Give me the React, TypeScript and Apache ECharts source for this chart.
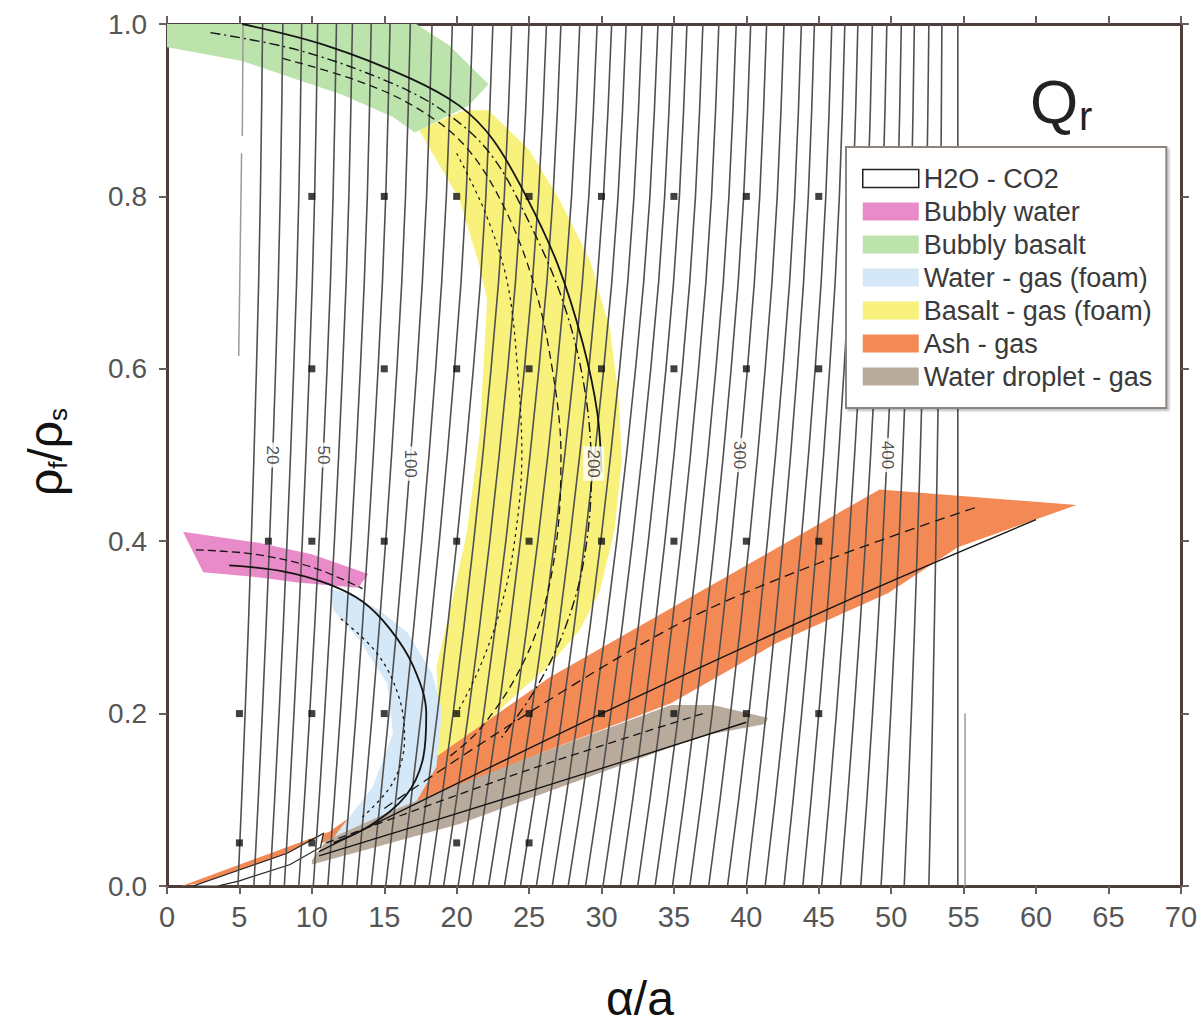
import React, { useEffect, useRef } from 'react';
import * as echarts from 'echarts';

// ---- axes ----
const xTicks = [0, 5, 10, 15, 20, 25, 30, 35, 40, 45, 50, 55, 60, 65, 70];
const yTicks = [0, 0.2, 0.4, 0.6, 0.8, 1.0];

// ---- Qr contour lines (x at bottom y=0 and at top y=1) ----
const contourTopX = [6.6, 8.0, 9.3, 10.4, 11.7, 12.8, 14.1, 15.4, 16.8, 18.3, 19.7, 21.1, 22.5, 23.8, 25.0, 26.2, 27.2, 28.5, 29.7, 30.7, 31.7, 32.8, 33.9, 34.9, 35.9, 37.0, 38.1, 39.3, 40.3, 41.4, 42.6, 43.8, 44.7, 45.9, 46.8, 47.7, 48.7, 49.7, 50.7, 51.6, 52.6, 53.5, 54.6];
const contourBottomX = [4.9, 6.0, 7.1, 8.1, 9.1, 10.1, 11.1, 12.1, 13.1, 14.1, 15.1, 16.1, 17.1, 18.1, 19.1, 20.1, 21.1, 22.2, 23.3, 24.4, 25.5, 26.6, 27.7, 28.9, 30.1, 31.3, 32.5, 33.7, 34.9, 36.1, 37.4, 38.7, 40.0, 41.3, 42.6, 43.9, 45.2, 46.5, 47.9, 49.3, 50.9, 52.6, 54.6];
// common shape of the contours: share of the bottom-to-top shift reached at each height
const contourProfileY = [0, 0.1, 0.2, 0.3, 0.4, 0.5, 0.6, 0.7, 0.8, 0.9, 1.0];
const contourProfileShare = [0, 0.15, 0.29, 0.42, 0.54, 0.65, 0.75, 0.84, 0.91, 0.96, 1.0];
const partialContours = [
  [[5.25, 1.0], [5.2, 0.87]],
  [[5.15, 0.85], [4.95, 0.615]],
  [[55.1, 0.0], [55.1, 0.2]],
];

// ---- contour labels ----
const contourLabelText = ['20', '50', '100', '200', '300', '400'];
const contourLabelX = [6.9, 10.6, 17.1, 29.0, 39.5, 50.1];
const contourLabelY = [0.5, 0.5, 0.49, 0.49, 0.5, 0.5];

// ---- black sample dots ----
const dotPoints = [
  [10, 0.8], [15, 0.8], [20, 0.8], [25, 0.8], [30, 0.8], [35, 0.8], [40, 0.8], [45, 0.8],
  [10, 0.6], [15, 0.6], [20, 0.6], [25, 0.6], [30, 0.6], [35, 0.6], [40, 0.6], [45, 0.6],
  [7, 0.4], [10, 0.4], [15, 0.4], [20, 0.4], [25, 0.4], [30, 0.4], [35, 0.4], [40, 0.4], [45, 0.4],
  [5, 0.2], [10, 0.2], [15, 0.2], [20, 0.2], [25, 0.2], [30, 0.2], [35, 0.2], [40, 0.2], [45, 0.2],
  [5, 0.05], [10, 0.05], [20, 0.05], [25, 0.05],
];

// ---- regions ----
const regionH2OCO2 = [[1.8, 0.0], [8.3, 0.038], [10.8, 0.061], [10.6, 0.045], [8.5, 0.025], [5, 0.006], [3.5, 0.0]];
const regionBubblyWater = [[1.1, 0.411], [6.4, 0.398], [10, 0.385], [13.9, 0.362], [13.2, 0.346], [9, 0.352], [6.4, 0.358], [2.5, 0.364]];
const regionBubblyBasalt = [[0, 1.0], [17.2, 1.0], [19.5, 0.975], [22.2, 0.93], [20.8, 0.905], [17.1, 0.874], [15.6, 0.892], [12.1, 0.918], [8.7, 0.937], [5.2, 0.957], [0.4, 0.972], [0, 0.973]];
const regionWaterFoam = [[11.2, 0.345], [12.4, 0.34], [14.5, 0.322], [16.6, 0.294], [18.3, 0.247], [19.0, 0.204], [18.6, 0.138], [17.0, 0.092], [13.3, 0.053], [11, 0.045], [11.9, 0.065], [14.2, 0.115], [15.6, 0.177], [15.2, 0.235], [13.3, 0.285], [11.5, 0.32]];
const regionBasaltFoam = [[17.4, 0.877], [20.5, 0.9], [22.2, 0.9], [25.0, 0.854], [27.1, 0.796], [29.2, 0.726], [30.6, 0.645], [31.2, 0.564], [31.4, 0.494], [30.9, 0.413], [29.9, 0.343], [28.5, 0.297], [26.4, 0.256], [23.7, 0.216], [20.9, 0.169], [18.8, 0.135], [18.1, 0.111], [18.6, 0.154], [18.8, 0.177], [18.6, 0.254], [19.7, 0.332], [20.7, 0.41], [21.6, 0.526], [22.1, 0.68], [21.6, 0.718], [20.2, 0.796]];
const regionAsh = [[1.0, 0.0], [11.2, 0.063], [26.4, 0.242], [49.2, 0.46], [62.8, 0.442], [54.6, 0.393], [49.8, 0.34], [42.1, 0.282], [34.8, 0.212], [26.4, 0.158], [20, 0.115], [15, 0.08], [10, 0.045], [3, 0.005]];
const regionDroplet = [[10, 0.03], [11, 0.053], [15.6, 0.088], [20.2, 0.118], [26.4, 0.158], [34.8, 0.21], [37.7, 0.21], [41.5, 0.195], [41.3, 0.188], [37.5, 0.176], [34.8, 0.161], [26.4, 0.11], [20.2, 0.072], [13.3, 0.04], [10, 0.025]];

// ---- model curves drawn in black ----
const basaltSolid = [[5.2, 1.0], [11, 0.975], [16.8, 0.937], [20.2, 0.905], [22.5, 0.866], [24.8, 0.8], [27, 0.72], [28.7, 0.63], [29.7, 0.55], [30, 0.48]];
const basaltDashA = [[3, 0.99], [9, 0.97], [15, 0.935], [19, 0.9], [22.3, 0.85], [25, 0.77], [27.3, 0.68], [28.8, 0.58], [29.3, 0.48], [28.8, 0.38], [27.5, 0.3], [25.5, 0.23], [23, 0.17]];
const basaltDashB = [[8, 0.96], [13, 0.935], [17, 0.905], [20.5, 0.86], [23.2, 0.79], [25.3, 0.7], [26.6, 0.6], [27.2, 0.5], [26.9, 0.4], [25.8, 0.31], [24, 0.24], [21.5, 0.18], [19.5, 0.15]];
const basaltDashC = [[20, 0.85], [22, 0.78], [23.5, 0.7], [24.2, 0.6], [24.5, 0.5], [24, 0.4], [23, 0.32], [21.5, 0.25], [20, 0.2]];
const waterSolid = [[4.3, 0.372], [8, 0.365], [11.2, 0.35], [13.5, 0.33], [15.4, 0.298], [17, 0.255], [17.9, 0.2], [17.7, 0.15], [16.5, 0.105], [14, 0.07], [11.5, 0.05]];
const waterDashA = [[2, 0.39], [6, 0.385], [10, 0.37], [13.5, 0.345]];
const waterDashB = [[12, 0.31], [14.5, 0.27], [16, 0.22], [16.4, 0.17], [15.6, 0.12], [13.5, 0.08]];
const ashSolid = [[10.5, 0.04], [30, 0.2], [47.5, 0.335], [60, 0.425]];
const ashDash = [[15, 0.09], [36, 0.31], [56, 0.44]];
const dropletSolid = [[10.5, 0.035], [25, 0.11], [40, 0.19]];
const dropletDash = [[11, 0.05], [25, 0.135], [37, 0.2]];

// ---- legend ----
const legendNames = ['H2O - CO2', 'Bubbly water', 'Bubbly basalt', 'Water - gas (foam)', 'Basalt - gas (foam)', 'Ash - gas', 'Water droplet - gas'];
const legendColors = ['#ffffff', '#e98bc9', '#bde3ad', '#d5e8f7', '#f8f27c', '#f38a55', '#b9ab9b'];

const FONT = 'Liberation Sans, Arial, sans-serif';
const AXIS_COLOR = '#4c3e3a';

function polygonSeries(name: string, pts: number[][], fill: string, stroke?: string) {
  return {
    type: 'custom',
    name,
    coordinateSystem: 'cartesian2d',
    silent: true,
    clip: true,
    z: 1,
    itemStyle: { color: fill },
    data: [[pts[0][0], pts[0][1]]],
    renderItem: (_p: any, api: any) => ({
      type: 'polygon',
      shape: { points: pts.map((p) => api.coord(p)) },
      style: { fill, stroke: stroke || 'none', lineWidth: stroke ? 1.2 : 0 },
    }),
  };
}

function curveSeries(name: string, pts: number[][], type: any, width = 1.6) {
  return {
    type: 'line',
    name,
    data: pts,
    showSymbol: false,
    smooth: 0.35,
    silent: true,
    z: 4,
    lineStyle: { color: '#151515', width, type },
  };
}

function contourXAt(i: number, y: number) {
  const xb = contourBottomX[i];
  const xt = contourTopX[i];
  for (let k = 1; k < contourProfileY.length; k++) {
    if (y <= contourProfileY[k]) {
      const t = (y - contourProfileY[k - 1]) / (contourProfileY[k] - contourProfileY[k - 1]);
      const s = contourProfileShare[k - 1] + t * (contourProfileShare[k] - contourProfileShare[k - 1]);
      return xb + (xt - xb) * s;
    }
  }
  return xt;
}

export default function App() {
  const ref = useRef<HTMLDivElement>(null);
  useEffect(() => {
    document.body.style.margin = '0';
    if (!ref.current) return;
    const chart = echarts.init(ref.current, undefined, { renderer: 'svg' });

    const contourData = contourTopX.map((_, i) => ({
      coords: contourProfileY.map((y, k) => [contourBottomX[i] + (contourTopX[i] - contourBottomX[i]) * contourProfileShare[k], y]),
    }));

    const labelData = contourLabelText.map((t, j) => {
      const y = contourLabelY[j];
      let best = 0;
      let bestD = Infinity;
      contourTopX.forEach((_, i) => {
        const d = Math.abs(contourXAt(i, y) - contourLabelX[j]);
        if (d < bestD) { bestD = d; best = i; }
      });
      return [contourXAt(best, y), y, t];
    });

    const axisCommon = {
      type: 'value',
      splitLine: { show: false },
      axisLine: { show: true, onZero: false, lineStyle: { color: AXIS_COLOR, width: 3 } },
      axisTick: { show: true, inside: false, length: 8, lineStyle: { color: '#6a5e5a', width: 2 } },
    };

    const option: any = {
      animation: false,
      backgroundColor: '#ffffff',
      grid: { left: 167, right: 18, top: 24, bottom: 139 },
      xAxis: [
        {
          ...axisCommon,
          position: 'bottom',
          min: xTicks[0], max: xTicks[xTicks.length - 1], interval: xTicks[1] - xTicks[0],
          axisLabel: { show: true, margin: 16, fontSize: 29, color: '#555', fontFamily: FONT },
        },
        {
          ...axisCommon,
          position: 'top',
          min: xTicks[0], max: xTicks[xTicks.length - 1], interval: xTicks[1] - xTicks[0],
          axisLabel: { show: false },
        },
      ],
      yAxis: [
        {
          ...axisCommon,
          position: 'left',
          min: yTicks[0], max: yTicks[yTicks.length - 1], interval: yTicks[1] - yTicks[0],
          axisLabel: { show: true, margin: 20, fontSize: 28, color: '#555', fontFamily: FONT, formatter: (v: number) => v.toFixed(1) },
        },
        {
          ...axisCommon,
          position: 'right',
          min: yTicks[0], max: yTicks[yTicks.length - 1], interval: yTicks[1] - yTicks[0],
          axisLabel: { show: false },
        },
      ],
      legend: {
        show: true,
        orient: 'vertical',
        left: 846,
        top: 147,
        icon: 'rect',
        itemWidth: 56,
        itemHeight: 18,
        itemGap: 6,
        padding: [18, 14, 18, 16],
        backgroundColor: '#ffffff',
        borderColor: '#8e847e',
        borderWidth: 2,
        shadowColor: 'rgba(0,0,0,0.25)',
        shadowOffsetX: 2,
        shadowOffsetY: 2,
        shadowBlur: 2,
        selectedMode: false,
        textStyle: { fontSize: 27, color: '#3a3a3a', fontFamily: FONT },
        data: legendNames.map((n, i) => ({
          name: n,
          itemStyle: i === 0
            ? { color: '#ffffff', borderColor: '#222', borderWidth: 1.5 }
            : { color: legendColors[i], borderWidth: 0 },
        })),
      },
      graphic: [
        { type: 'text', left: 1030, top: 70, z: 10, style: { text: 'Q', fontSize: 62, fontFamily: FONT, fill: '#222' } },
        { type: 'text', left: 1079, top: 96, z: 10, style: { text: 'r', fontSize: 40, fontFamily: FONT, fill: '#222' } },
        {
          type: 'text', x: 640, y: 998, z: 10,
          style: { text: 'α/a', fontSize: 48, fontFamily: FONT, fill: '#111', align: 'center', verticalAlign: 'middle' },
        },
        {
          type: 'text', x: 45, y: 452, rotation: Math.PI / 2, z: 10,
          style: {
            text: '{a|ρ}{b|f}{a|/ρ}{b|s}',
            align: 'center',
            verticalAlign: 'middle',
            fill: '#111',
            rich: {
              a: { fontSize: 48, fontFamily: FONT, fill: '#111', lineHeight: 52 },
              b: { fontSize: 26, fontFamily: FONT, fill: '#111', lineHeight: 26, verticalAlign: 'bottom' },
            },
          },
        },
      ],
      series: [
        polygonSeries('Basalt - gas (foam)', regionBasaltFoam, legendColors[4]),
        polygonSeries('Ash - gas', regionAsh, legendColors[5]),
        polygonSeries('Water - gas (foam)', regionWaterFoam, legendColors[3]),
        polygonSeries('Water droplet - gas', regionDroplet, legendColors[6]),
        polygonSeries('Bubbly basalt', regionBubblyBasalt, legendColors[2]),
        polygonSeries('Bubbly water', regionBubblyWater, legendColors[1]),
        polygonSeries('H2O - CO2', regionH2OCO2, '#ffffff', '#222'),
        {
          type: 'lines',
          name: 'contours',
          coordinateSystem: 'cartesian2d',
          polyline: true,
          silent: true,
          z: 3,
          lineStyle: { color: '#505050', width: 1.6, opacity: 1 },
          data: contourData,
        },
        {
          type: 'lines',
          name: 'contours-partial',
          coordinateSystem: 'cartesian2d',
          polyline: true,
          silent: true,
          z: 3,
          lineStyle: { color: '#9a9a9a', width: 1.5, opacity: 1 },
          data: partialContours.map((c) => ({ coords: c })),
        },
        curveSeries('basalt-solid', basaltSolid, 'solid', 1.8),
        curveSeries('basalt-dash-a', basaltDashA, [10, 4, 2, 4], 1.4),
        curveSeries('basalt-dash-b', basaltDashB, [8, 5], 1.3),
        curveSeries('basalt-dash-c', basaltDashC, [3, 4], 1.2),
        curveSeries('water-solid', waterSolid, 'solid', 1.8),
        curveSeries('water-dash-a', waterDashA, [8, 4], 1.3),
        curveSeries('water-dash-b', waterDashB, [3, 4], 1.3),
        curveSeries('ash-solid', ashSolid, 'solid', 1.4),
        curveSeries('ash-dash', ashDash, [10, 6], 1.3),
        curveSeries('droplet-solid', dropletSolid, 'solid', 1.4),
        curveSeries('droplet-dash', dropletDash, [8, 5], 1.3),
        {
          type: 'scatter',
          name: 'dots',
          data: dotPoints,
          symbol: 'rect',
          symbolSize: 7,
          silent: true,
          z: 5,
          itemStyle: { color: '#111' },
        },
        {
          type: 'scatter',
          name: 'contour-labels',
          data: labelData,
          symbolSize: 0,
          silent: true,
          z: 6,
          itemStyle: { color: 'rgba(0,0,0,0)' },
          label: {
            show: true,
            position: 'inside',
            rotate: -90,
            formatter: (p: any) => p.value[2],
            fontSize: 17,
            fontFamily: FONT,
            color: '#222',
            backgroundColor: '#ffffff',
            padding: [2, 3],
          },
        },
      ],
    };
    chart.setOption(option);
    return () => chart.dispose();
  }, []);
  return <div ref={ref} style={{ width: 1200, height: 1025 }} />;
}
